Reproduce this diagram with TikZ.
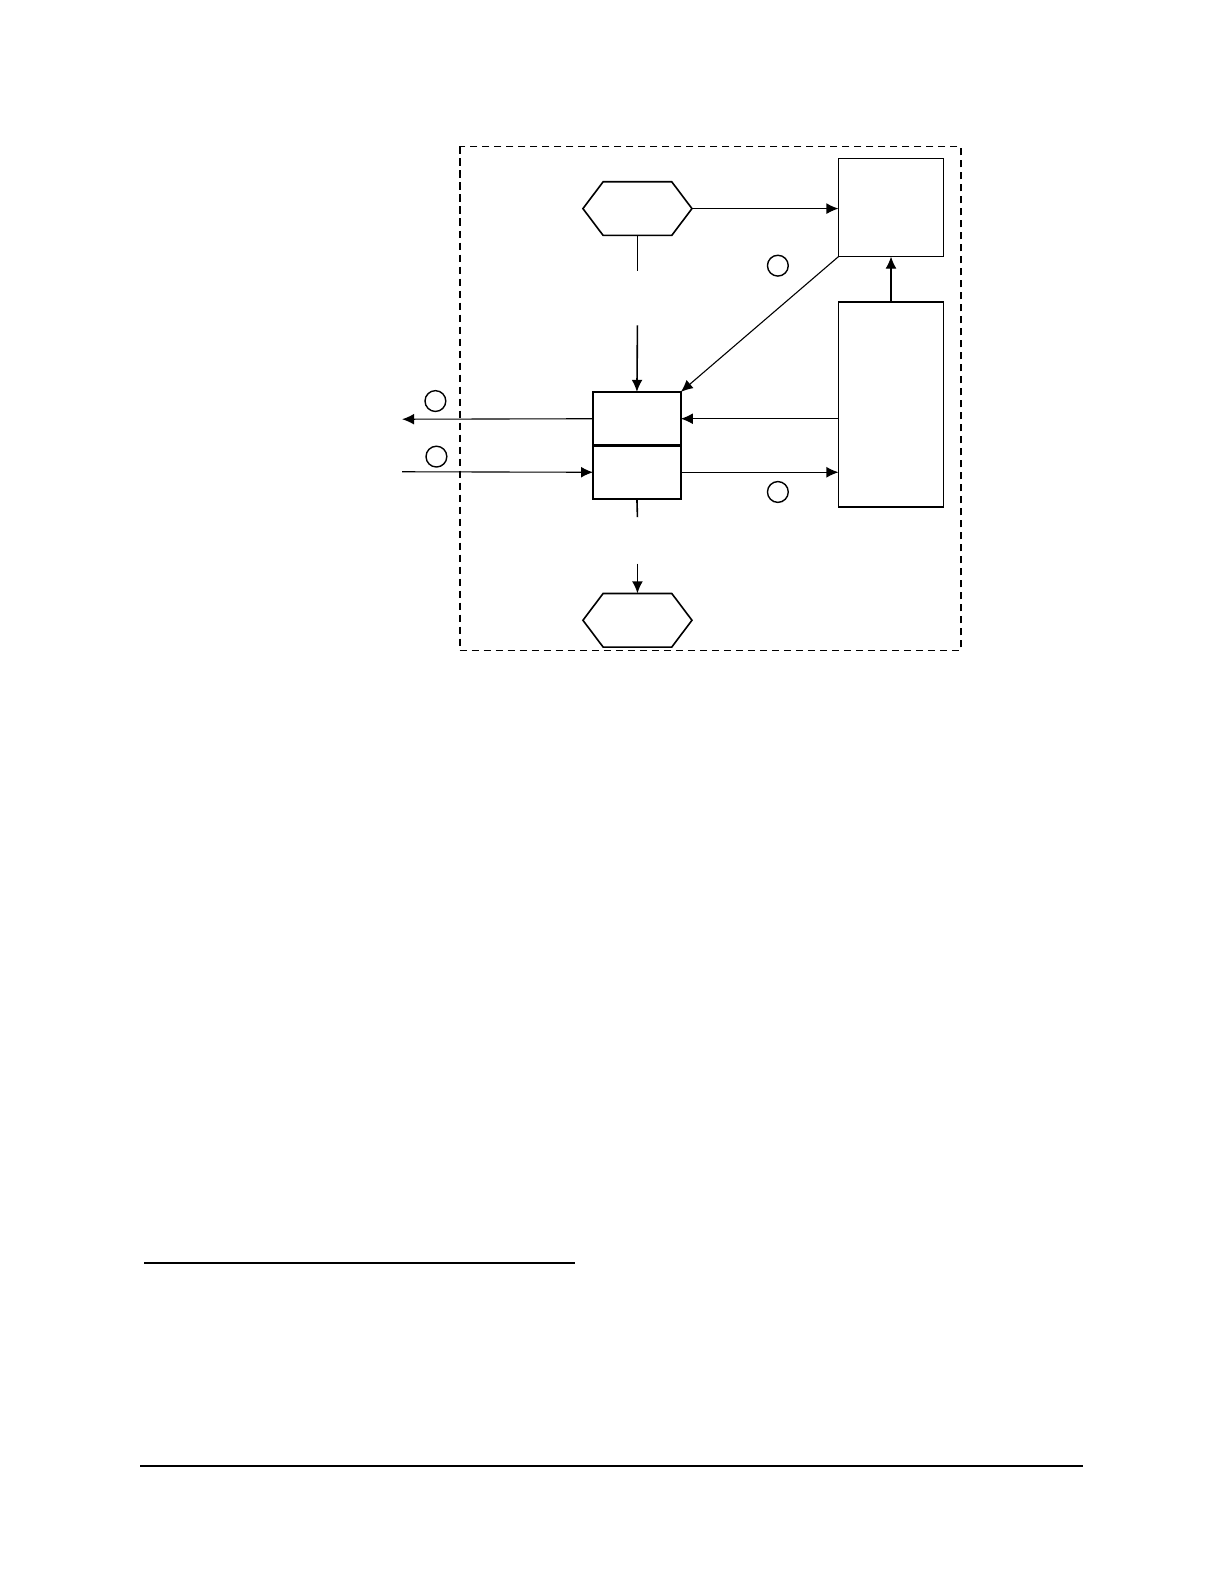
\documentclass[tikz,border=0pt]{standalone}
\usetikzlibrary{arrows.meta, shapes.symbols}

\tikzset{
  blk/.style={draw=black, line width=0.8pt, inner sep=0pt, outer sep=0pt},
  hexa/.style={signal, signal to=west and east, signal pointer angle=106,
    draw=black, line width=0.8pt, inner sep=0pt, outer sep=0pt,
    minimum width=54.5pt, minimum height=26.8pt},
  tag/.style={circle, draw=black, line width=0.7pt, inner sep=0pt, minimum size=10.4pt},
  flow/.style={line width=0.55pt, -{Latex[length=6pt,width=5.4pt]}},
  vflow/.style={line width=0.8pt, -{Latex[length=6pt,width=5.4pt]}}
}

\begin{document}
\begin{tikzpicture}[x=0.50495pt,y=-0.50495pt]
\useasboundingbox (0,0) rectangle (1212,1568);
% frame
\draw[line width=0.9pt, dash pattern=on 3.6pt off 2.4pt] (455,145) rectangle (951,644);
% blocks
\node[hexa] (hexT) at (631,206.5) {};
\node[hexa] (hexB) at (631,614) {};
\node[blk, minimum width=52.5pt, minimum height=49pt] (boxA) at (882,205.5) {};
\node[blk, minimum width=52.5pt, minimum height=102.5pt] (boxB) at (882,400.5) {};
\node[blk, minimum width=43.9pt, minimum height=26.8pt] (midU) at (630.5,414.5) {};
\node[blk, minimum width=43.9pt, minimum height=26.8pt] (midL) at (630.5,467.5) {};
\draw[line width=1.3pt] (midU.north west) -- (midU.north east);
\draw[line width=1.3pt] (midU.south west) -- (midU.south east);
% loose ends
\coordinate (gapT1) at (631,268);
\coordinate (gapT2) at (631,322);
\coordinate (gapB1) at (631,512);
\coordinate (gapB2) at (631,558);
\coordinate (outL) at (398,415);
\coordinate (inL) at (398,467);
% connectors
\draw[flow] (hexT.east) -- (hexT.east -| boxA.west);
\draw[flow] (boxB.north) -- (boxA.south);
\draw[flow] (boxA.south west) -- (midU.north east);
\draw[flow] (midU.east -| boxB.west) -- (midU.east);
\draw[flow] (midL.east) -- (midL.east -| boxB.west);
\draw[flow] (midU.west) -- (outL);
\draw[flow] (inL) -- (midL.west);
\draw[line width=0.8pt] (hexT.south) -- (gapT1);
\draw[vflow] (gapT2) -- (midU.north);
\draw[line width=0.8pt] (midL.south) -- (gapB1);
\draw[vflow] (gapB2) -- (hexB.north);
% markers
\node[tag] (tagA) at (770,263) {};
\node[tag] (tagB) at (770,487) {};
\node[tag] (tagC) at (431,397) {};
\node[tag] (tagD) at (432,452) {};
% rules
\draw[line width=1pt] (143,1250) -- (569,1250);
\draw[line width=1pt] (139,1451) -- (1072,1451);
\end{tikzpicture}
\end{document}
